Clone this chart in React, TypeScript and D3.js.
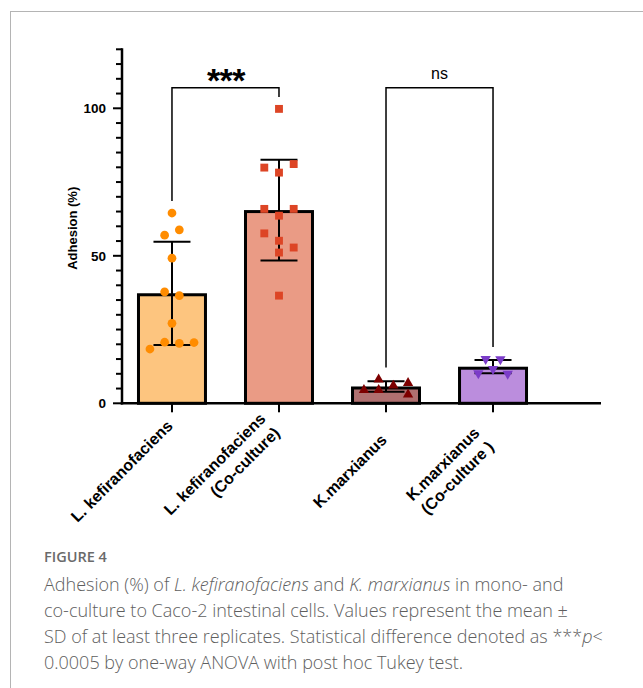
import React, { useEffect, useRef } from "react";
import * as d3 from "d3";

// ---------------- data ----------------
const categories = [
  "L. kefiranofaciens",
  "L. kefiranofaciens (Co-culture)",
  "K.marxianus",
  "K.marxianus (Co-culture )",
];
const categoryLines = [
  ["L. kefiranofaciens"],
  ["L. kefiranofaciens", "(Co-culture)"],
  ["K.marxianus"],
  ["K.marxianus", "(Co-culture )"],
];
const meanValues = [37.3, 65.5, 5.7, 12.4];
const sdValues = [17.5, 17.1, 1.8, 2.25];
const lkMonoPoints = [64.5, 58.8, 57.0, 49.2, 36.5, 37.8, 27.1, 20.3, 20.7, 20.6, 18.4];
const lkCoPoints = [99.8, 78.2, 79.9, 81.1, 63.6, 65.9, 65.9, 55.1, 51.1, 57.6, 52.8, 36.5];
const kmMonoPoints = [6.0, 8.1, 6.9, 4.5, 3.0, 4.5];
const kmCoPoints = [14.9, 15.0, 11.6, 10.0, 10.2];
const yMajorTicks = [0, 50, 100];
const yMinorTicks = [0, 5, 10, 15, 20, 25, 30, 35, 40, 45, 50, 55, 60, 65, 70, 75, 80, 85, 90, 95, 100, 105, 110, 115, 120];
const yDomain = [0, 120];
const comparisons = [
  { a: 0, b: 1, text: "***" },
  { a: 2, b: 3, text: "ns" },
];
const bracketLevel = 107;
const yAxisTitle = "Adhesion (%)";
const captionTitle = "FIGURE 4";
const captionLines: { t: string; i?: boolean }[][] = [
  [
    { t: "Adhesion (%) of " },
    { t: "L. kefiranofaciens", i: true },
    { t: " and " },
    { t: "K. marxianus", i: true },
    { t: " in mono- and" },
  ],
  [{ t: "co-culture to Caco-2 intestinal cells. Values represent the mean \u00b1" }],
  [
    { t: "SD of at least three replicates. Statistical difference denoted as ***" },
    { t: "p", i: true },
    { t: "<" },
  ],
  [{ t: "0.0005 by one-way ANOVA with post hoc Tukey test." }],
];

// ---------------- styles ----------------
const barFills = ["#FDC57F", "#EA9B85", "#B07070", "#BB8DDD"];
const pointFills = ["#FF8C00", "#DD4525", "#7D0000", "#7B3CC8"];
const FONT = "'Liberation Sans', Arial, Helvetica, sans-serif";
const CAPFONT = "'Open Sans', 'Noto Sans', sans-serif";

export default function App() {
  const ref = useRef<SVGSVGElement>(null);

  useEffect(() => {
    const svg = d3.select(ref.current);
    svg.selectAll("*").remove();

    const W = 643;
    const H = 688;
    const axisX = 122;
    const axisRight = 601;

    // frame
    svg
      .append("rect")
      .attr("x", 10.5)
      .attr("y", 11.5)
      .attr("width", W + 20)
      .attr("height", H + 20)
      .attr("fill", "none")
      .attr("stroke", "#b4b4b4")
      .attr("stroke-width", 1);

    const y = d3.scaleLinear().domain(yDomain).range([403.3, 49.3]);
    const x = d3
      .scaleBand<string>()
      .domain(categories)
      .range([axisX, 543])
      .paddingInner(0.346)
      .paddingOuter(0.14);
    const bw = x.bandwidth();
    const cxOf = (i: number) => (x(categories[i]) as number) + bw / 2;

    const g = svg.append("g");

    // bars
    g.selectAll("rect.bar")
      .data(meanValues)
      .join("rect")
      .attr("class", "bar")
      .attr("x", (_, i) => (x(categories[i]) as number) + 1.5)
      .attr("y", (d) => y(d) + 1.5)
      .attr("width", bw - 3)
      .attr("height", (d) => y(0) - y(d) - 1.5)
      .attr("fill", (_, i) => barFills[i])
      .attr("stroke", "#000")
      .attr("stroke-width", 3);

    // error bars
    const capHalf = 18.5;
    meanValues.forEach((m, i) => {
      const cx = cxOf(i);
      const lo = y(m - sdValues[i]);
      const hi = y(m + sdValues[i]);
      const eg = g.append("g").attr("stroke", "#000").attr("stroke-width", 2);
      eg.append("line").attr("x1", cx).attr("x2", cx).attr("y1", lo).attr("y2", hi);
      eg.append("line").attr("x1", cx - capHalf).attr("x2", cx + capHalf).attr("y1", hi).attr("y2", hi);
      eg.append("line").attr("x1", cx - capHalf).attr("x2", cx + capHalf).attr("y1", lo).attr("y2", lo);
    });

    // points (beeswarm-like placement)
    const D = 9;
    const spacing = 14.7;
    function swarm(vals: number[], cx: number) {
      const ys = vals.map((v) => y(v));
      const slot: number[] = [];
      const placed: number[] = [];
      vals.forEach((_, i) => {
        const free = (s: number) => placed.every((j) => slot[j] !== s || Math.abs(ys[j] - ys[i]) >= D);
        const near = (s: number) =>
          placed.filter((j) => slot[j] === s && Math.abs(ys[j] - ys[i]) < 2 * D).length;
        let chosen = 0;
        if (!free(0)) {
          for (let k = 1; k < 12; k++) {
            const l = free(-k);
            const r = free(k);
            if (l && r) {
              chosen = near(k) < near(-k) ? k : -k;
              break;
            }
            if (l) {
              chosen = -k;
              break;
            }
            if (r) {
              chosen = k;
              break;
            }
          }
        }
        slot[i] = chosen;
        placed.push(i);
      });
      const parent = vals.map((_, i) => i);
      const find = (a: number): number => (parent[a] === a ? a : (parent[a] = find(parent[a])));
      for (let a = 0; a < vals.length; a++)
        for (let b = a + 1; b < vals.length; b++)
          if (Math.abs(ys[a] - ys[b]) < D) parent[find(a)] = find(b);
      const groups = d3.group(vals.map((_, i) => i), (i) => find(i));
      const shift: number[] = [];
      groups.forEach((members) => {
        const ss = members.map((m) => slot[m]);
        const s = -((d3.min(ss) as number) + (d3.max(ss) as number)) / 2;
        members.forEach((m) => (shift[m] = s));
      });
      return vals.map((v, i) => ({ x: cx + (slot[i] + shift[i]) * spacing, y: ys[i], v }));
    }

    const groupsData = [lkMonoPoints, lkCoPoints, kmMonoPoints, kmCoPoints];
    const symbols = [
      d3.symbol().type(d3.symbolCircle).size(60),
      d3.symbol().type(d3.symbolSquare).size(62),
      d3.symbol().type(d3.symbolTriangle).size(46),
      d3.symbol().type(d3.symbolTriangle).size(46),
    ];
    const placedGroups = groupsData.map((vals, gi) => swarm(vals, cxOf(gi)));
    placedGroups.forEach((pts, gi) => {
      g.append("g")
        .selectAll("path")
        .data(pts)
        .join("path")
        .attr("d", symbols[gi]() as string)
        .attr("transform", (p) => `translate(${p.x},${p.y})${gi === 3 ? " rotate(180)" : ""}`)
        .attr("fill", pointFills[gi]);
    });

    // axes
    const ax = svg.append("g").attr("stroke", "#000");
    ax.append("line")
      .attr("x1", axisX)
      .attr("x2", axisX)
      .attr("y1", y(yDomain[1]) - 1)
      .attr("y2", y(0) + 1.25)
      .attr("stroke-width", 2.5);
    ax.append("line")
      .attr("x1", axisX - 1.25)
      .attr("x2", axisRight)
      .attr("y1", y(0))
      .attr("y2", y(0))
      .attr("stroke-width", 2.5);
    ax.selectAll("line.minor")
      .data(yMinorTicks.filter((t) => !yMajorTicks.includes(t)))
      .join("line")
      .attr("class", "minor")
      .attr("x1", axisX - 6)
      .attr("x2", axisX)
      .attr("y1", (d) => y(d))
      .attr("y2", (d) => y(d))
      .attr("stroke-width", 2);
    ax.selectAll("line.major")
      .data(yMajorTicks)
      .join("line")
      .attr("class", "major")
      .attr("x1", axisX - 9)
      .attr("x2", axisX)
      .attr("y1", (d) => y(d))
      .attr("y2", (d) => y(d))
      .attr("stroke-width", 2);
    svg
      .append("g")
      .selectAll("text")
      .data(yMajorTicks)
      .join("text")
      .attr("x", axisX - 16)
      .attr("y", (d) => y(d))
      .attr("dy", "0.36em")
      .attr("text-anchor", "end")
      .attr("font-family", FONT)
      .attr("font-weight", "bold")
      .attr("font-size", 13.5)
      .text((d) => d);
    // x ticks
    ax.selectAll("line.xt")
      .data(categories)
      .join("line")
      .attr("class", "xt")
      .attr("x1", (d) => (x(d) as number) + bw / 2)
      .attr("x2", (d) => (x(d) as number) + bw / 2)
      .attr("y1", y(0))
      .attr("y2", y(0) + 9)
      .attr("stroke-width", 2);

    // y title
    svg
      .append("text")
      .attr("transform", `translate(76.5,${(y(0) + y(yDomain[1])) / 2 + 2}) rotate(-90)`)
      .attr("text-anchor", "middle")
      .attr("font-family", FONT)
      .attr("font-weight", "bold")
      .attr("font-size", 13)
      .text(yAxisTitle);

    // x labels (rotated)
    const fs = 16;
    const lineH = 20;
    const c45 = Math.SQRT1_2;
    categoryLines.forEach((lines, i) => {
      const lg = svg.append("g");
      const texts = lines.map((ln, k) =>
        lg
          .append("text")
          .attr("x", 0)
          .attr("y", k * lineH)
          .attr("text-anchor", "end")
          .attr("font-family", FONT)
          .attr("font-weight", "bold")
          .attr("font-size", fs)
          .text(ln)
      );
      const L = d3.max(texts, (t) => (t.node() as SVGTextElement).getComputedTextLength()) as number;
      const top = -0.72 * fs;
      const bottom = (lines.length - 1) * lineH + 0.2 * fs;
      const vc = (top + bottom) / 2;
      const px = cxOf(i) + 4 - c45 * bottom;
      const py = 472 - c45 * (L / 2 + vc);
      lg.attr("transform", `translate(${px},${py}) rotate(-45)`);
    });

    // significance brackets
    comparisons.forEach((c) => {
      const xa = cxOf(c.a);
      const xb = cxOf(c.b);
      const yt = y(bracketLevel);
      const ya = y(d3.max(groupsData[c.a]) as number) - 12;
      const yb = y(d3.max(groupsData[c.b]) as number) - 12;
      svg
        .append("path")
        .attr("d", `M${xa},${ya}V${yt}H${xb}V${yb}`)
        .attr("fill", "none")
        .attr("stroke", "#000")
        .attr("stroke-width", 1.5);
      const isStar = c.text.includes("*");
      svg
        .append("text")
        .attr("x", (xa + xb) / 2 + (isStar ? 0.5 : 0))
        .attr("y", isStar ? yt + 4 : yt - 9)
        .attr("text-anchor", "middle")
        .attr("font-family", FONT)
        .attr("font-weight", isStar ? "bold" : "normal")
        .attr("font-size", isStar ? 34 : 16)
        .attr("letter-spacing", isStar ? -0.5 : 0)
        .text(c.text);
    });

    // caption
    svg
      .append("text")
      .attr("x", 44)
      .attr("y", 562)
      .attr("font-family", CAPFONT)
      .attr("font-weight", 600)
      .attr("font-size", 14.5)
      .attr("fill", "#6a6a6a")
      .text(captionTitle);
    captionLines.forEach((segs, li) => {
      const t = svg
        .append("text")
        .attr("x", 44)
        .attr("y", 591 + li * 26)
        .attr("font-family", CAPFONT)
        .attr("font-size", 18)
        .attr("font-weight", 300)
        .attr("fill", "#5e5e5e");
      segs.forEach((s) => {
        t.append("tspan").attr("font-style", s.i ? "italic" : "normal").text(s.t);
      });
    });
  }, []);

  return (
    <svg
      ref={ref}
      width={643}
      height={688}
      style={{ position: "absolute", left: 0, top: 0, background: "#fff" }}
    />
  );
}
